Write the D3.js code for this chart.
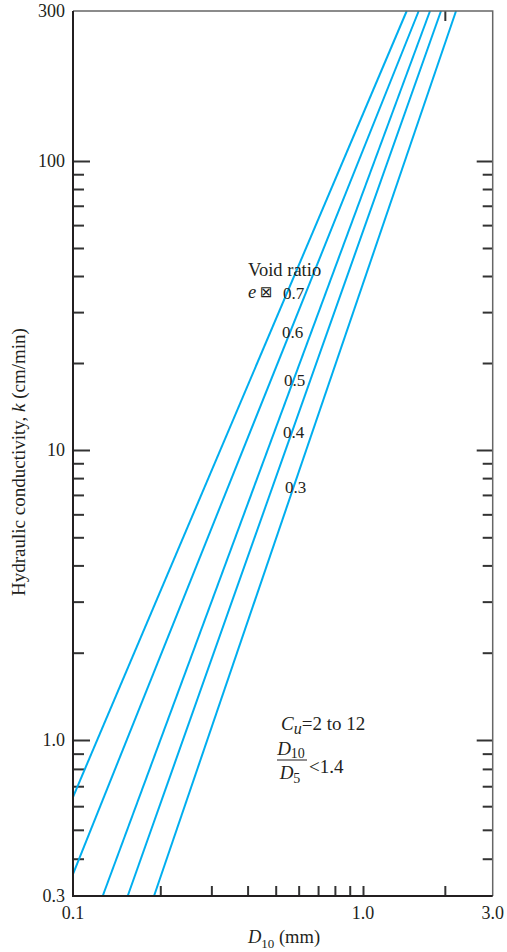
<!DOCTYPE html>
<html>
<head>
<meta charset="utf-8">
<script src="https://cdn.jsdelivr.net/npm/d3@7"></script>
<style>
  body { margin: 0; background: #fff; }
  svg text { fill: #231f20; }
</style>
</head>
<body>
<div id="chart"></div>
<script>
// void ratio lines, each one straight on log-log paper: [D10, k] end points
var voidRatios = ["0.7", "0.6", "0.5", "0.4", "0.3"]
var lineStart = [[0.1, 0.644], [0.1, 0.355], [0.1266, 0.3], [0.1544, 0.3], [0.1903, 0.3]]
var lineEnd = [[1.448, 300], [1.603, 300], [1.764, 300], [1.936, 300], [2.199, 300]]

var yLabels = [0.3, 1, 10, 100, 300]
var yLabelText = ["0.3", "1.0", "10", "100", "300"]
var yMajor = [1, 10, 100]
var yMinor = [0.4, 0.5, 0.6, 0.7, 0.8, 0.9, 2, 3, 4, 5, 6, 7, 8, 9, 20, 30, 40, 50, 60, 70, 80, 90]
var xLabels = [0.1, 1, 3]
var xLabelText = ["0.1", "1.0", "3.0"]
var xBottomTicks = [0.2, 0.3, 0.4, 0.5, 0.6, 0.7, 0.8, 0.9, 1, 2]
var xTopTicks = [2]

var W = 507, H = 952
var pLeft = 73, pRight = 492.7, pTop = 11, pBottom = 896
var serif = "Liberation Serif, Times New Roman, serif"

var svg = d3.select('#chart').append('svg')
  .attr("width", W)
  .attr("height", H)
  .attr("font-family", serif)

// the printed paper is not quite uniform per decade, so piecewise log scales
var x = d3.scaleLog()
  .domain([0.1, 1, 3])
  .range([pLeft, 363, pRight])

var y = d3.scaleLog()
  .domain([0.3, 1, 10, 100, 300])
  .range([pBottom, 740, 450, 161, pTop])

// ticks, all pointing inwards
svg.append("g")
  .attr("transform", "translate(" + pLeft + ",0)")
  .call(d3.axisLeft(y).tickValues(yMinor).tickSize(-11).tickFormat(""))
svg.append("g")
  .attr("transform", "translate(" + pLeft + ",0)")
  .call(d3.axisLeft(y).tickValues(yMajor).tickSize(-17).tickFormat(""))
svg.append("g")
  .attr("transform", "translate(" + pRight + ",0)")
  .call(d3.axisRight(y).tickValues(yMinor).tickSize(-10).tickFormat(""))
svg.append("g")
  .attr("transform", "translate(" + pRight + ",0)")
  .call(d3.axisRight(y).tickValues(yMajor).tickSize(-16).tickFormat(""))
svg.append("g")
  .attr("transform", "translate(0," + pBottom + ")")
  .call(d3.axisBottom(x).tickValues(xBottomTicks).tickSize(-10).tickFormat(""))
svg.append("g")
  .attr("transform", "translate(0," + pTop + ")")
  .call(d3.axisTop(x).tickValues(xTopTicks).tickSize(-10).tickFormat(""))

svg.selectAll(".domain").remove()
svg.selectAll(".tick line")
  .attr("stroke", "#333")
  .attr("stroke-width", 2)

// the lines
var line = d3.line()
  .x(function (d) { return x(d[0]) })
  .y(function (d) { return y(d[1]) })

svg.append("g").selectAll("path")
  .data(voidRatios)
  .enter().append("path")
  .attr("d", function (d, i) { return line([lineStart[i], lineEnd[i]]) })
  .attr("fill", "none")
  .attr("stroke", "#00aeef")
  .attr("stroke-width", 2)

// frame
svg.append("path")
  .attr("d", "M" + pLeft + "," + pTop + "H" + pRight + "V" + pBottom)
  .attr("fill", "none")
  .attr("stroke", "#666")
  .attr("stroke-width", 1.5)
svg.append("path")
  .attr("d", "M" + pLeft + "," + pTop + "V" + pBottom + "H" + pRight)
  .attr("fill", "none")
  .attr("stroke", "#231f20")
  .attr("stroke-width", 2)

// tick labels
svg.append("g").selectAll("text")
  .data(yLabels)
  .enter().append("text")
  .attr("x", 65)
  .attr("y", function (d) { return y(d) + 6 })
  .attr("text-anchor", "end")
  .attr("font-size", 18)
  .text(function (d, i) { return yLabelText[i] })

svg.append("g").selectAll("text")
  .data(xLabels)
  .enter().append("text")
  .attr("x", function (d) { return x(d) })
  .attr("y", 919)
  .attr("text-anchor", "middle")
  .attr("font-size", 18)
  .text(function (d, i) { return xLabelText[i] })

// axis titles
var xt = svg.append("text")
  .attr("x", 284)
  .attr("y", 943)
  .attr("text-anchor", "middle")
  .attr("font-size", 18.5)
xt.append("tspan").attr("font-style", "italic").text("D")
xt.append("tspan").attr("font-size", 13).attr("dy", 5).text("10")
xt.append("tspan").attr("dy", -5).text(" (mm)")

var yt = svg.append("text")
  .attr("transform", "translate(25,462) rotate(-90)")
  .attr("text-anchor", "middle")
  .attr("font-size", 19)
yt.append("tspan").text("Hydraulic conductivity, ")
yt.append("tspan").attr("font-style", "italic").text("k")
yt.append("tspan").text(" (cm/min)")

// void ratio annotation
var labelPos = [[283, 299], [282, 338], [284, 386], [283, 438], [285, 493]]
svg.append("text")
  .attr("x", 248).attr("y", 276)
  .attr("font-size", 18.5)
  .text("Void ratio")
svg.append("text")
  .attr("x", 248).attr("y", 298)
  .attr("font-size", 18.5)
  .attr("font-style", "italic")
  .text("e")
svg.append("text")
  .attr("x", 260).attr("y", 297)
  .attr("font-size", 15)
  .attr("font-family", "DejaVu Sans")
  .text("\u22a0")
svg.append("g").selectAll("text")
  .data(voidRatios)
  .enter().append("text")
  .attr("x", function (d, i) { return labelPos[i][0] })
  .attr("y", function (d, i) { return labelPos[i][1] })
  .attr("font-size", 17)
  .text(function (d) { return d })

// Cu and D10/D5 note
var cu = svg.append("text")
  .attr("x", 281).attr("y", 730)
  .attr("font-size", 19)
cu.append("tspan").attr("font-style", "italic").text("C")
cu.append("tspan").attr("font-style", "italic").attr("font-size", 16).attr("dy", 4).text("u")
cu.append("tspan").attr("dy", -4).text("=2 to 12")

var num = svg.append("text")
  .attr("x", 291).attr("y", 755)
  .attr("text-anchor", "middle")
  .attr("font-size", 19)
num.append("tspan").attr("font-style", "italic").text("D")
num.append("tspan").attr("font-size", 14).attr("dy", 3).text("10")
svg.append("line")
  .attr("x1", 277).attr("x2", 307)
  .attr("y1", 760).attr("y2", 760)
  .attr("stroke", "#231f20")
  .attr("stroke-width", 1)
var den = svg.append("text")
  .attr("x", 290).attr("y", 779)
  .attr("text-anchor", "middle")
  .attr("font-size", 19)
den.append("tspan").attr("font-style", "italic").text("D")
den.append("tspan").attr("font-size", 14).attr("dy", 4).text("5")
svg.append("text")
  .attr("x", 309).attr("y", 773)
  .attr("font-size", 19)
  .text("<1.4")
</script>
</body>
</html>
